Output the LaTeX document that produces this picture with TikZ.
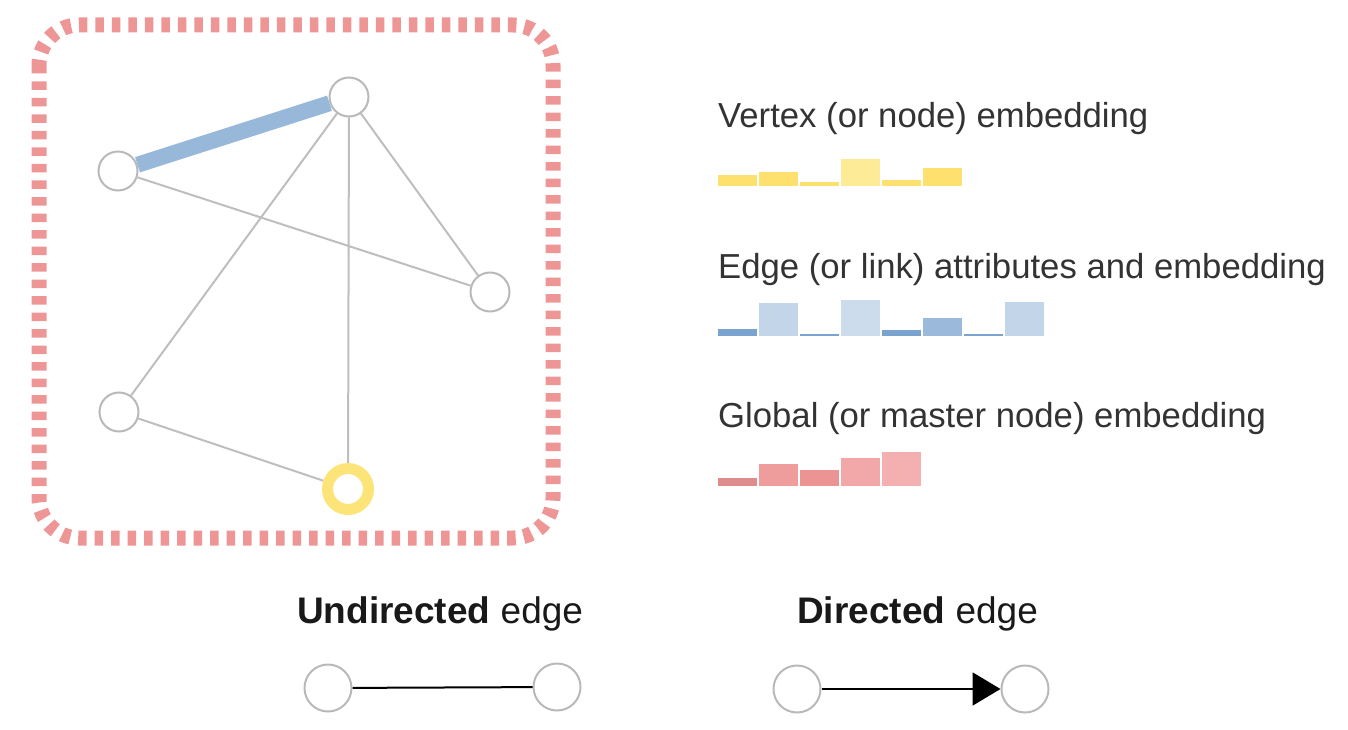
\documentclass[tikz,border=0pt]{standalone}
\usepackage{fontspec}
\setmainfont{Liberation Sans}
\usetikzlibrary{backgrounds,arrows.meta}

\definecolor{bordercol}{RGB}{238,150,150}
\definecolor{edgegray}{RGB}{190,190,190}
\definecolor{nodegray}{RGB}{185,185,185}
\definecolor{blueedge}{RGB}{152,184,218}
\definecolor{ringyellow}{RGB}{253,228,120}
\definecolor{textgray}{RGB}{51,51,51}
% bar colours
\definecolor{ya}{RGB}{253,224,110}
\definecolor{yb}{RGB}{253,235,152}
\definecolor{ba}{RGB}{123,163,207}
\definecolor{bb}{RGB}{195,213,232}
\definecolor{bc}{RGB}{204,220,236}
\definecolor{bd}{RGB}{155,185,218}
\definecolor{ra}{RGB}{222,140,140}
\definecolor{rb}{RGB}{238,156,156}
\definecolor{rc}{RGB}{236,148,148}
\definecolor{rd}{RGB}{242,168,168}
\definecolor{re}{RGB}{244,176,176}

\begin{document}
\begin{tikzpicture}[x=1pt,y=-1pt]
	\tikzstyle{Vertex} = [circle, minimum size=39pt, inner sep=0pt, draw=nodegray, line width=2pt, fill=white]
	\tikzstyle{Pair} = [circle, minimum size=47pt, inner sep=0pt, draw=nodegray, line width=2pt, fill=white]
	\tikzstyle{Ring} = [circle, minimum size=41pt, inner sep=0pt, draw=ringyellow, line width=11pt, fill=white]
	\tikzstyle{edgeline} = [draw=edgegray, line width=2pt]
	\tikzstyle{label} = [anchor=base west, inner sep=0pt, text=textgray, font=\fontsize{34.7}{40}\selectfont]
	\tikzstyle{caption} = [anchor=base west, inner sep=0pt, text=black!90, font=\fontsize{37}{42}\selectfont]
	\tikzstyle{arrow} = [line width=2pt, -{Triangle[length=28pt, width=33pt]}]

	\useasboundingbox (0,0) rectangle (1348,730);

	% graph border
	\draw [bordercol, line width=15pt, dash pattern=on 8.5pt off 8pt, rounded corners=40pt]
		(39,25) rectangle (553,538);

	% graph
	\node (a) [Vertex] at (118,171) {};
	\node (b) [Vertex] at (349,97) {};
	\node (c) [Vertex] at (490,292) {};
	\node (d) [Vertex] at (119,412) {};
	\node (e) [Ring] at (348,489) {};

	\begin{scope}[on background layer]
		\draw [draw=blueedge, line width=16pt] (a) -- (b);
		\draw [edgeline] (a) -- (c);
		\draw [edgeline] (b) -- (c);
		\draw [edgeline] (b) -- (d);
		\draw [edgeline] (b) -- (e);
		\draw [edgeline] (d) -- (e);
	\end{scope}

	% embeddings
	\node (vtext) [label] at (718,128) {Vertex (or node) embedding};
	\foreach \i/\h/\c in {0/11/ya, 1/14/ya, 2/4/ya, 3/27/yb, 4/6/ya, 5/18/ya}
		\fill [\c] (718+41*\i,186) rectangle ++(39,-\h);

	\node (etext) [label] at (718,278) {Edge (or link) attributes and embedding};
	\foreach \i/\h/\c in {0/7/ba, 1/33/bb, 2/2/ba, 3/36/bc, 4/6/ba, 5/18/bd, 6/2/ba, 7/34/bb}
		\fill [\c] (718+41*\i,336) rectangle ++(39,-\h);

	\node (gtext) [label] at (718,427) {Global (or master node) embedding};
	\foreach \i/\h/\c in {0/8/ra, 1/22/rb, 2/16/rc, 3/28/rd, 4/34/re}
		\fill [\c] (718+41*\i,486) rectangle ++(39,-\h);

	% edge types
	\node (utext) [caption] at (297,623) {\textbf{Undirected} edge};
	\node (u1) [Pair] at (328,688) {};
	\node (u2) [Pair] at (557,687) {};
	\draw [line width=2pt] (u1) -- (u2);

	\node (dtext) [caption] at (797,623) {\textbf{Directed} edge};
	\node (d1) [Pair] at (797,689) {};
	\node (d2) [Pair] at (1025,689) {};
	\draw [arrow] (d1) -- (d2);
\end{tikzpicture}
\end{document}
